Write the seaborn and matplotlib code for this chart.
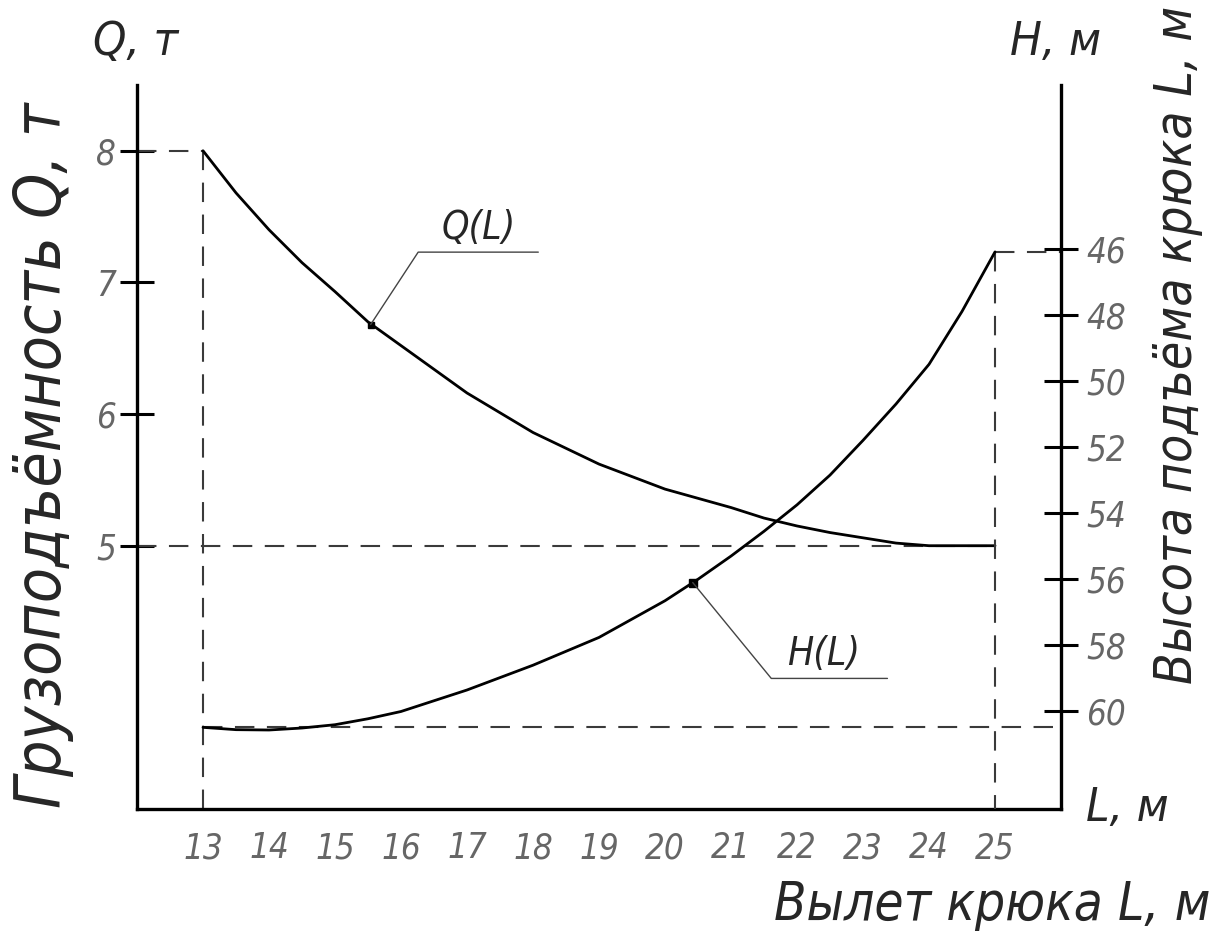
import numpy as np
import pandas as pd
import seaborn as sns
import matplotlib.pyplot as plt

# values
L = [13, 13.5, 14, 14.5, 15, 15.5, 16, 17, 18, 19, 20, 20.5, 21, 21.5, 22, 22.5,
     23, 23.5, 24, 24.5, 25]
Q = [8.0, 7.68, 7.40, 7.15, 6.93, 6.70, 6.52, 6.16, 5.86, 5.62, 5.43, 5.36, 5.29,
     5.21, 5.15, 5.10, 5.06, 5.02, 5.0, 5.0, 5.0]
H = [60.48, 60.55, 60.56, 60.5, 60.4, 60.22, 60.0, 59.35, 58.6, 57.76, 56.65, 56.0,
     55.3, 54.55, 53.75, 52.85, 51.8, 50.7, 49.5, 47.9, 46.1]
l_ticks = list(range(13, 26))
q_ticks = [5, 6, 7, 8]
h_ticks = [46, 48, 50, 52, 54, 56, 58, 60]
q_mark = (15.54, 6.68)
h_mark = (20.42, 56.1)

df = pd.DataFrame({'L': L, 'Q': Q, 'H': H})

sns.set_style('white')
plt.rcParams['font.family'] = ['DejaVu Sans']
plt.rcParams['font.style'] = 'italic'
plt.rcParams['font.stretch'] = 'condensed'
plt.rcParams['lines.scale_dashes'] = False

fig = plt.figure(figsize=(12.19, 9.49), dpi=100)
ax = fig.add_axes([0.1124, 0.1475, 0.758, 0.763])
ax2 = ax.twinx()

xlim = (12, 26)
qlim = (3, 8.5)
hlim = (62.95, 41.05)
ax.set_xlim(*xlim)
ax.set_ylim(*qlim)
ax2.set_ylim(*hlim)

dash = dict(color='#3a3a3a', lw=1.5, ls=(0, (14, 9)))
# guide lines
ax.hlines(Q[0], xlim[0], L[0], **dash)
ax.vlines(L[0], qlim[0], Q[0], **dash)
ax.hlines(Q[-1], xlim[0], L[-1], **dash)
ax2.vlines(L[-1], H[-1], hlim[0], **dash)
ax2.hlines(H[0], L[0], xlim[1], **dash)
ax2.hlines(H[-1], L[-1], xlim[1], **dash)

sns.lineplot(data=df, x='L', y='Q', ax=ax, color='black', lw=2)
sns.lineplot(data=df, x='L', y='H', ax=ax2, color='black', lw=2)
ax.plot(*q_mark, 's', color='black', ms=5)
ax2.plot(*h_mark, 's', color='black', ms=6)

# leaders
ax.plot([q_mark[0], 16.26, 18.08], [q_mark[1], 7.23, 7.23], color='#444', lw=1)
ax.text(17.17, 7.27, 'Q(L)', fontsize=28, ha='center', va='bottom')
ax2.plot([h_mark[0], 21.61, 23.37], [h_mark[1], 59.0, 59.0], color='#444', lw=1)
ax2.text(22.4, 58.85, 'H(L)', fontsize=28, ha='center', va='bottom')

ax.set_xticks(l_ticks)
ax.set_yticks(q_ticks)
ax2.set_yticks(h_ticks)
ax.set_xlabel('')
ax.set_ylabel('')
ax2.set_ylabel('')

for a in (ax, ax2):
    a.spines['top'].set_visible(False)
    for s in a.spines.values():
        s.set_linewidth(2.4)
        s.set_color('black')
ax.spines['right'].set_visible(False)
ax2.spines['left'].set_visible(False)
ax2.spines['bottom'].set_visible(False)

tick_kw = dict(direction='inout', length=24, width=2.2, color='black',
               labelcolor='#666666', labelsize=25)
ax.tick_params(axis='x', pad=4, **tick_kw)
ax.tick_params(axis='y', left=True, pad=3, **tick_kw)
ax2.tick_params(axis='y', right=True, pad=6, **tick_kw)

fig.text(0.035, 0.52, 'Грузоподъёмность Q, т', rotation=90, fontsize=46,
         ha='center', va='center')
fig.text(0.966, 0.637, 'Высота подъёма крюка L, м', rotation=90, fontsize=37,
         ha='center', va='center')
fig.text(0.993, 0.046, 'Вылет крюка L, м', fontsize=38, ha='right', va='center')
fig.text(0.111, 0.955, 'Q, т', fontsize=34, ha='center', va='center')
fig.text(0.866, 0.955, 'H, м', fontsize=34, ha='center', va='center')
fig.text(0.925, 0.148, 'L, м', fontsize=34, ha='center', va='center')

plt.savefig('out.png', dpi=100)
